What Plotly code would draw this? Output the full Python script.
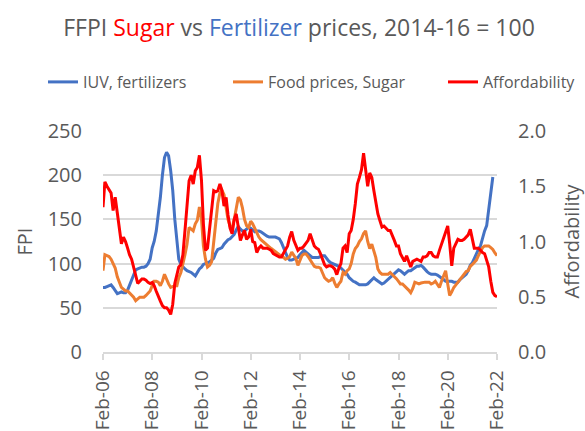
import pandas as pd
import plotly.graph_objects as go

# Monthly series, Feb-2006 .. Feb-2022
months = pd.date_range("2006-02-01", periods=193, freq="MS")

iuv_fertilizers = [
    73, 73, 74, 75, 76, 73, 70, 66, 67, 68, 67, 67,
    70, 75, 82, 88, 93, 94, 95, 96, 96, 97, 100, 105,
    118, 125, 137, 153, 175, 200, 220, 226, 222, 205, 183, 150,
    122, 105, 99, 96, 94, 92, 91, 90, 88, 86, 90, 94,
    96, 99, 100, 101, 102, 104, 106, 112, 116, 117, 118, 122,
    125, 127, 128, 130, 133, 138, 142, 139, 137, 137, 139, 141,
    140, 138, 136, 137, 137, 136, 134, 133, 131, 130, 130, 130,
    130, 129, 128, 124, 118, 112, 107, 104, 104, 105, 106, 107,
    110, 112, 115, 113, 111, 108, 107, 107, 107, 107, 108, 109,
    109, 106, 103, 101, 100, 99, 98, 97, 95, 93, 91, 88,
    84, 82, 80, 79, 77, 76, 76, 76, 76, 77, 79, 82,
    84, 82, 80, 79, 77, 78, 80, 82, 84, 86, 88, 90,
    93, 92, 90, 88, 90, 92, 92, 94, 96, 97, 97, 98,
    96, 93, 91, 89, 88, 88, 88, 87, 85, 84, 82, 80,
    80, 80, 80, 79, 79, 79, 82, 84, 86, 88, 92, 98,
    101, 106, 111, 116, 120, 130, 137, 143, 160, 183, 198, None, None,
]

food_sugar = [
    92, 110, 109, 108, 105, 100, 95, 85, 78, 73, 71, 69,
    69, 67, 64, 62, 58, 60, 62, 62, 62, 64, 66, 69,
    75, 80, 80, 79, 75, 80, 88, 82, 77, 73, 74, 75,
    75, 84, 90, 99, 110, 122, 141, 139, 137, 145, 149, 164,
    150, 120, 105, 96, 98, 102, 126, 150, 168, 180, 183, 178,
    162, 150, 142, 140, 150, 165, 175, 172, 163, 150, 143, 141,
    148, 145, 140, 134, 130, 127, 125, 124, 121, 119, 117, 115,
    113, 112, 110, 109, 107, 105, 106, 108, 113, 110, 106, 98,
    105, 109, 111, 111, 108, 104, 100, 97, 96, 96, 95, 90,
    84, 82, 80, 81, 84, 78, 73, 77, 80, 90, 88, 92,
    94, 100, 111, 117, 120, 125, 128, 134, 137, 125, 117, 122,
    115, 107, 94, 90, 88, 88, 88, 88, 90, 88, 86, 83,
    80, 77, 77, 75, 73, 70, 67, 72, 79, 78, 77, 78,
    79, 79, 79, 79, 77, 78, 80, 76, 73, 80, 86, 92,
    77, 64, 68, 73, 76, 79, 83, 86, 88, 91, 92, 97,
    99, 101, 104, 109, 113, 118, 120, 120, 120, 118, 116, 112, 109,
]

affordability = [
    1.31, 1.54, 1.50, 1.47, 1.44, 1.28, 1.40, 1.26, 1.12, 0.98, 1.04, 1.00,
    0.94, 0.88, 0.84, 0.76, 0.70, 0.62, 0.64, 0.66, 0.66, 0.65, 0.63, 0.62,
    0.63, 0.60, 0.55, 0.50, 0.46, 0.42, 0.40, 0.40, 0.38, 0.34, 0.43, 0.62,
    0.70, 0.77, 0.79, 0.88, 1.10, 1.36, 1.55, 1.60, 1.52, 1.64, 1.67, 1.78,
    1.55, 1.16, 0.92, 0.94, 1.10, 1.31, 1.46, 1.45, 1.46, 1.52, 1.46, 1.32,
    1.40, 1.24, 1.12, 1.07, 1.20, 1.25, 1.13, 1.01, 1.06, 1.10, 1.02, 1.04,
    1.11, 1.00, 0.99, 0.90, 0.94, 0.96, 0.94, 0.94, 0.94, 0.93, 0.92, 0.89,
    0.88, 0.87, 0.86, 0.86, 0.89, 0.92, 0.96, 1.04, 1.09, 1.01, 0.96, 0.92,
    0.94, 0.94, 0.96, 0.98, 1.01, 1.07, 1.02, 0.96, 0.94, 0.93, 0.89, 0.84,
    0.79, 0.77, 0.78, 0.78, 0.77, 0.75, 0.70, 0.76, 0.80, 0.94, 0.96, 0.90,
    1.07, 1.10, 1.20, 1.34, 1.52, 1.58, 1.65, 1.80, 1.64, 1.50, 1.62, 1.58,
    1.46, 1.36, 1.25, 1.19, 1.13, 1.14, 1.12, 1.10, 1.10, 1.06, 1.01, 0.96,
    0.96, 0.89, 0.85, 0.82, 0.87, 0.81, 0.77, 0.82, 0.83, 0.84, 0.83, 0.82,
    0.86, 0.86, 0.87, 0.90, 0.90, 0.87, 0.86, 0.86, 0.92, 0.98, 1.04, 1.10,
    1.14, 0.98, 0.78, 0.94, 0.99, 1.02, 1.01, 1.01, 1.02, 1.04, 1.06, 1.11,
    1.00, 0.94, 0.94, 0.94, 0.92, 0.90, 0.89, 0.83, 0.77, 0.64, 0.54, 0.51, 0.50,
]

series_names = ["IUV, fertilizers", "Food prices, Sugar", "Affordability"]
series_colors = ["#4472C4", "#ED7D31", "#FF0000"]

grey = "#595959"
font_family = "Open Sans, Lato, sans-serif"

fig = go.Figure()
fig.add_trace(go.Scatter(x=months, y=iuv_fertilizers, name=series_names[0],
                         mode="lines", line=dict(color=series_colors[0], width=3),
                         legend="legend", showlegend=True))
fig.add_trace(go.Scatter(x=months, y=food_sugar, name=series_names[1],
                         mode="lines", line=dict(color=series_colors[1], width=3),
                         legend="legend2", showlegend=True))
fig.add_trace(go.Scatter(x=months, y=affordability, name=series_names[2],
                         mode="lines", line=dict(color=series_colors[2], width=3),
                         yaxis="y2", legend="legend3", showlegend=True))

# one legend box per series so the three entries sit in a single wide row
legend_style = dict(orientation="h", xref="container", yref="container",
                    y=1 - 82 / 431, yanchor="middle", xanchor="left",
                    font=dict(size=16, color=grey), bgcolor="rgba(0,0,0,0)",
                    itemwidth=30, visible=True)

fig.update_layout(
    width=585, height=431,
    showlegend=True,
    margin=dict(l=103, r=88, t=131, b=79, autoexpand=False),
    paper_bgcolor="white", plot_bgcolor="white",
    font=dict(family=font_family, color=grey),
    title=dict(
        text="FFPI <span style='color:#FF0000'>Sugar</span> vs "
             "<span style='color:#4472C4'>Fertilizer</span> prices, 2014-16 = 100",
        x=299 / 585, xanchor="center", y=1 - 28 / 431, yanchor="middle",
        font=dict(size=23, color=grey, family=font_family),
    ),
    legend=dict(x=43 / 585, **legend_style),
    legend2=dict(x=228 / 585, **legend_style),
    legend3=dict(x=443 / 585, **legend_style),
    xaxis=dict(
        type="date",
        range=["2006-02-01", "2022-02-01"],
        tick0="2006-02-01", dtick="M24", tickformat="%b-%y",
        tickangle=-90,
        tickfont=dict(size=19, color=grey),
        showgrid=False,
        showline=True, linecolor="#D9D9D9", linewidth=1.5,
        ticks="outside", ticklen=6, tickcolor="#D9D9D9", tickwidth=1.5,
        ticklabelstandoff=3,
        automargin=False,
    ),
    yaxis=dict(
        range=[0, 250], dtick=50,
        tickfont=dict(size=20, color=grey),
        showgrid=True, gridcolor="#D9D9D9", gridwidth=1.5,
        zeroline=False, showline=False,
        ticklabelstandoff=20,
        title=dict(text="FPI", font=dict(size=20, color=grey), standoff=9),
        automargin=False,
    ),
    yaxis2=dict(
        range=[0, 2.0], dtick=0.5, tickformat=".1f",
        overlaying="y", side="right",
        tickfont=dict(size=20, color=grey),
        showgrid=False, zeroline=False, showline=False,
        ticklabelstandoff=20,
        title=dict(text="Affordability", font=dict(size=20, color=grey), standoff=20),
        automargin=False,
    ),
)

fig.write_html("out.html")
